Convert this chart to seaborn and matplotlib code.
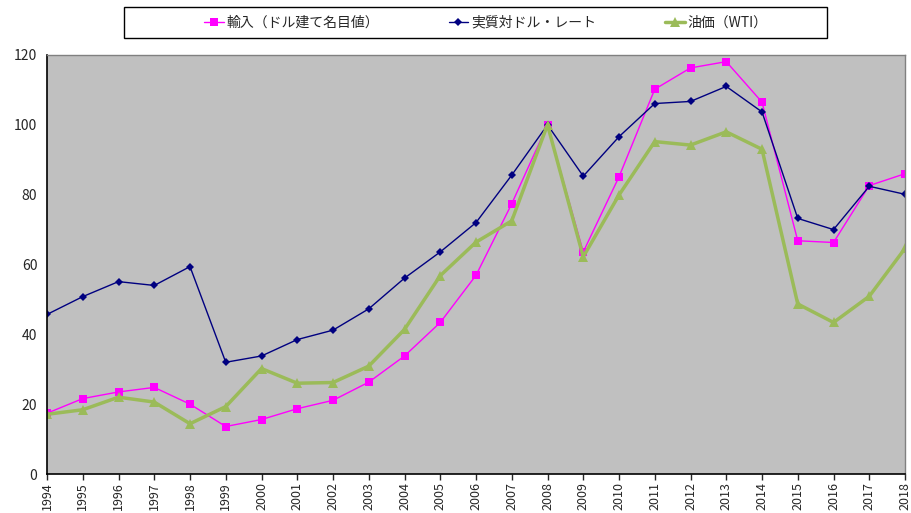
import matplotlib
matplotlib.use("Agg")
import matplotlib.pyplot as plt
from matplotlib.patches import Rectangle
import seaborn as sns
import pandas as pd

years = list(range(1994, 2019))
imports_usd = [17.4, 21.6, 23.5, 24.8, 20.0, 13.6, 15.6, 18.7, 21.1, 26.3, 33.8, 43.4, 56.9,
               77.4, 100.0, 63.6, 85.1, 110.2, 116.3, 118.1, 106.5, 66.8, 66.3, 82.6, 86.0]
real_usd_rate = [45.7, 50.8, 55.1, 54.0, 59.4, 32.0, 33.8, 38.5, 41.2, 47.3, 56.1, 63.6, 72.0,
                 85.6, 100.0, 85.3, 96.6, 106.1, 106.7, 111.0, 103.7, 73.2, 70.0, 82.4, 80.1]
oil_wti = [17.1, 18.4, 22.0, 20.6, 14.4, 19.3, 30.2, 26.0, 26.2, 30.9, 41.4, 56.8, 66.4,
           72.5, 100.0, 62.2, 79.9, 95.2, 94.2, 98.0, 93.0, 48.7, 43.4, 50.9, 64.6]
series_names = ["輸入（ドル建て名目値）", "実質対ドル・レート", "油価（WTI）"]

sns.set_theme(style="white")
plt.rcParams["font.family"] = ["Noto Sans CJK JP", "DejaVu Sans"]

df = pd.DataFrame({"year": years, "imp": imports_usd, "rate": real_usd_rate, "oil": oil_wti})

W, H = 911, 513
fig = plt.figure(figsize=(W / 100, H / 100), dpi=100)
ax = fig.add_axes([47 / W, 39 / H, 858 / W, 419 / H])
ax.set_facecolor("#C0C0C0")

sns.lineplot(data=df, x="year", y="imp", ax=ax, color="#FF00FF", linewidth=1.0,
             marker="s", markersize=5.5, markeredgewidth=0, label=series_names[0])
sns.lineplot(data=df, x="year", y="rate", ax=ax, color="#000080", linewidth=1.0,
             marker="D", markersize=4, markeredgewidth=0, label=series_names[1])
sns.lineplot(data=df, x="year", y="oil", ax=ax, color="#9BBB59", linewidth=2.5,
             marker="^", markersize=7.5, markeredgewidth=0, label=series_names[2])

ax.set_xlim(1994, 2018)
ax.set_ylim(0, 120)
ax.set_xticks(years)
ax.set_xticklabels([str(y) for y in years], rotation=90, fontsize=9)
ax.set_yticks(range(0, 121, 20))
ax.tick_params(axis="y", labelsize=10, length=0, pad=7)
ax.tick_params(axis="x", length=4, width=1, direction="out", pad=2, bottom=True)
ax.set_xlabel("")
ax.set_ylabel("")

for side in ["left", "bottom"]:
    ax.spines[side].set_color("black")
    ax.spines[side].set_linewidth(1.2)
for side in ["top", "right"]:
    ax.spines[side].set_color("#808080")
    ax.spines[side].set_linewidth(1.0)

# legend box drawn separately (behind the axes) so it can be wider than its entries
fig.patches.append(Rectangle((124 / W, 1 - 38 / H), 703 / W, 31 / H,
                             transform=fig.transFigure, facecolor="white",
                             edgecolor="black", linewidth=1.0, zorder=-1))

leg = ax.legend(loc="center", bbox_to_anchor=(486 / W, 1 - 22.5 / H),
                bbox_transform=fig.transFigure, ncol=3, frameon=False,
                fontsize=10, handlelength=1.4, handletextpad=0.2,
                columnspacing=5.0, borderpad=0.3)

fig.savefig("out.png", dpi=100, facecolor="white")
